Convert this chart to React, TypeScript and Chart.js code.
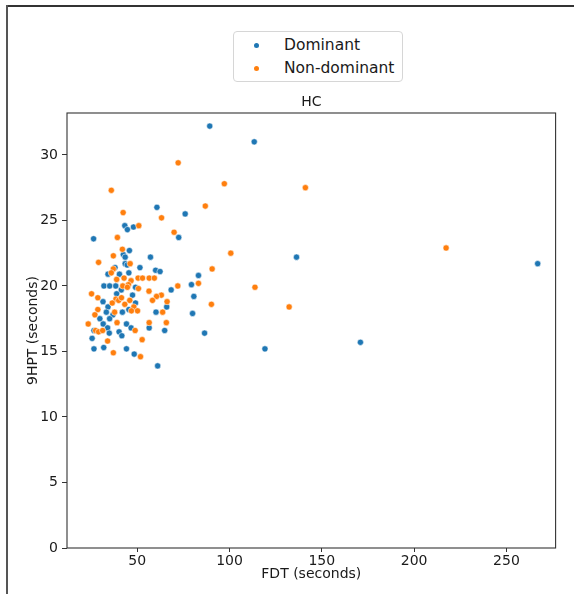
import React, { useEffect, useRef } from "react";
import { Chart, registerables } from "chart.js";

Chart.register(...registerables);

// ---- data ----
const dominantFDT = [89.3, 113.4, 60.7, 76.0, 43.3, 44.7, 48.0, 72.5, 26.4, 45.8, 42.5, 43.5, 57.2, 136.3, 266.9, 83.2, 86.5, 119.2, 170.9, 43.5, 44.6, 34.2, 40.4, 45.5, 51.5, 60.0, 62.4, 79.4, 32.0, 35.1, 38.4, 41.4, 49.1, 68.4, 80.7, 66.0, 31.5, 38.9, 49.1, 34.2, 33.3, 42.0, 60.2, 36.9, 29.8, 35.1, 31.6, 44.2, 46.7, 56.5, 64.9, 80.0, 26.6, 34.0, 34.9, 40.2, 41.7, 25.6, 26.6, 31.9, 44.2, 48.4, 61.1, 45.5, 47.5, 38.0];
const dominant9HPT = [32.2, 31.0, 26.0, 25.5, 24.6, 24.3, 24.5, 23.7, 23.6, 22.7, 22.4, 22.2, 22.2, 22.2, 21.7, 20.8, 16.4, 15.2, 15.7, 21.7, 21.6, 20.9, 20.9, 21.0, 21.4, 21.2, 21.1, 20.1, 20.0, 20.0, 20.0, 19.7, 19.9, 19.7, 19.2, 18.4, 18.8, 19.4, 18.7, 18.4, 18.0, 18.0, 18.0, 17.8, 17.5, 17.5, 17.1, 17.1, 16.8, 16.8, 16.6, 17.9, 16.6, 16.8, 16.4, 16.5, 16.2, 16.0, 15.2, 15.3, 15.2, 14.8, 13.9, 18.2, 19.3, 21.4];

const nonDominantFDT = [72.2, 97.2, 141.1, 36.0, 86.9, 42.4, 63.2, 50.9, 70.0, 39.3, 42.0, 37.1, 100.7, 217.3, 90.6, 83.2, 113.8, 90.2, 132.3, 29.1, 46.2, 37.1, 36.0, 38.9, 42.9, 46.7, 50.5, 52.9, 56.5, 59.3, 72.0, 42.2, 45.3, 50.7, 44.7, 56.4, 63.1, 60.5, 58.3, 66.2, 25.3, 28.7, 38.5, 40.0, 41.5, 46.0, 36.5, 43.3, 48.2, 28.7, 37.8, 46.9, 50.2, 63.8, 27.1, 39.1, 23.5, 48.9, 56.5, 65.8, 27.5, 29.1, 31.3, 34.0, 52.7, 37.1, 51.8];
const nonDominant9HPT = [29.4, 27.8, 27.5, 27.3, 26.1, 25.6, 25.2, 24.6, 24.1, 23.7, 22.8, 22.3, 22.5, 22.9, 21.3, 20.2, 19.9, 18.6, 18.4, 21.8, 21.7, 21.3, 21.0, 20.5, 20.6, 20.4, 20.6, 20.6, 20.6, 20.6, 20.0, 20.0, 20.1, 19.8, 19.9, 19.6, 19.3, 19.2, 18.9, 18.8, 19.4, 19.1, 19.0, 18.9, 19.1, 18.9, 18.7, 18.6, 18.4, 18.2, 18.0, 18.1, 18.1, 18.0, 17.8, 17.2, 17.1, 16.6, 17.2, 17.2, 16.6, 16.5, 16.6, 15.8, 15.9, 14.9, 14.6];

const seriesNames = ["Dominant", "Non-dominant"];
const seriesColors = ["#1f77b4", "#ff7f0e"];
const xTicks = [50, 100, 150, 200, 250];
const yTicks = [0, 5, 10, 15, 20, 25, 30];
const xRange = [12, 276.6];
const yRange = [0, 33.2];
const chartTitle = "HC";
const xLabel = "FDT (seconds)";
const yLabel = "9HPT (seconds)";

const FONT = "'DejaVu Sans', sans-serif";
const TXT = "#1a1a1a";

const toPoints = (xs: number[], ys: number[]) => xs.map((x, i) => ({ x, y: ys[i] }));

export default function App() {
  const ref = useRef<HTMLCanvasElement>(null);

  useEffect(() => {
    if (!ref.current) return;
    const spines = {
      id: "spines",
      afterDraw(chart: any) {
        const { ctx, chartArea: a } = chart;
        ctx.save();
        ctx.strokeStyle = "#333";
        ctx.lineWidth = 1.1;
        ctx.strokeRect(a.left, a.top, a.right - a.left, a.bottom - a.top);
        ctx.restore();
      },
    };
    const tickFont = { family: FONT, size: 14 };
    const chart = new Chart(ref.current, {
      type: "scatter",
      data: {
        datasets: [
          {
            label: seriesNames[0],
            data: toPoints(dominantFDT, dominant9HPT),
            backgroundColor: seriesColors[0],
            borderColor: "rgba(255,255,255,0.9)",
            borderWidth: 0.6,
            pointRadius: 3.1,
            order: 1,
          },
          {
            label: seriesNames[1],
            data: toPoints(nonDominantFDT, nonDominant9HPT),
            backgroundColor: seriesColors[1],
            borderColor: "rgba(255,255,255,0.9)",
            borderWidth: 0.6,
            pointRadius: 3.1,
            order: 0,
          },
        ],
      },
      options: {
        animation: false,
        responsive: false,
        maintainAspectRatio: false,
        layout: { padding: { left: 0, right: 18.4, top: 0, bottom: 0 } },
        plugins: {
          legend: { display: false },
          title: { display: false },
          tooltip: { enabled: false },
        },
        scales: {
          x: {
            type: "linear",
            position: "bottom",
            min: xRange[0],
            max: xRange[1],
            bounds: "data",
            afterBuildTicks: (s: any) => {
              s.ticks = xTicks.map((v) => ({ value: v }));
            },
            afterFit: (s: any) => {
              s.height = 46;
            },
            ticks: { font: tickFont, color: TXT, padding: 1, maxRotation: 0 },
            grid: { display: true, drawOnChartArea: false, drawTicks: true, tickLength: 4, color: "#333" },
            border: { display: false },
            title: { display: true, text: xLabel, font: tickFont, color: TXT, padding: { top: 0, bottom: 10.8 } },
          },
          y: {
            type: "linear",
            position: "left",
            min: yRange[0],
            max: yRange[1],
            bounds: "data",
            afterBuildTicks: (s: any) => {
              s.ticks = yTicks.map((v) => ({ value: v }));
            },
            afterFit: (s: any) => {
              s.width = 67;
            },
            ticks: { font: tickFont, color: TXT, padding: 4 },
            grid: { display: true, drawOnChartArea: false, drawTicks: true, tickLength: 5, color: "#333" },
            border: { display: false },
            title: { display: true, text: yLabel, font: tickFont, color: TXT, padding: { top: 24.6, bottom: 0 } },
          },
          xTop: {
            type: "linear",
            axis: "x",
            position: "top",
            min: 0,
            max: 1,
            ticks: { display: false },
            grid: { display: false },
            border: { display: false },
            afterFit: (s: any) => {
              s.height = 113;
            },
            title: { display: true, text: chartTitle, font: tickFont, color: TXT, padding: { top: 94, bottom: 0 } },
          },
        },
      } as any,
      plugins: [spines],
    });
    return () => chart.destroy();
  }, []);

  const legendRow = (i: number, top: number) => (
    <div key={i} style={{ position: "absolute", left: 0, top, height: 20, width: "100%" }}>
      <span
        style={{
          position: "absolute",
          left: 20,
          top: 8,
          width: 5,
          height: 5,
          borderRadius: "50%",
          background: seriesColors[i],
        }}
      />
      <span style={{ position: "absolute", left: 50, top: 0, lineHeight: "20px", whiteSpace: "nowrap" }}>
        {seriesNames[i]}
      </span>
    </div>
  );

  return (
    <div style={{ position: "absolute", left: 0, top: 0, width: 574, height: 594, background: "#fff", overflow: "hidden" }}>
      <canvas ref={ref} width={574} height={594} style={{ position: "absolute", left: 0, top: 0, width: 574, height: 594 }} />
      <div style={{ position: "absolute", left: 6, top: 5, right: 0, height: 2, background: "#333" }} />
      <div style={{ position: "absolute", left: 6, top: 5, bottom: 0, width: 2, background: "#555" }} />
      <div
        style={{
          position: "absolute",
          left: 233,
          top: 31,
          width: 168,
          height: 49,
          border: "1px solid #d6d6d6",
          borderRadius: 4,
          background: "#fff",
          fontFamily: FONT,
          fontSize: 15.5,
          color: TXT,
        }}
      >
        {legendRow(0, 3)}
        {legendRow(1, 26)}
      </div>
    </div>
  );
}
